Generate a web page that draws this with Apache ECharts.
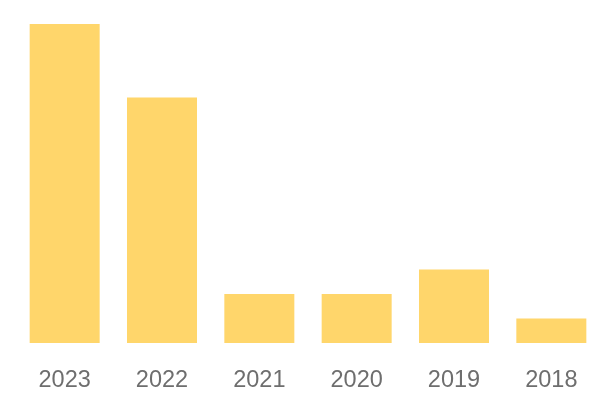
<!DOCTYPE html>
<html>
<head>
<meta charset="utf-8">
<script src="https://cdn.jsdelivr.net/npm/echarts@6/dist/echarts.min.js"></script>
<style>
  html, body { margin: 0; padding: 0; background: #fff; }
  #main { width: 600px; height: 400px; }
</style>
</head>
<body>
<div id="main"></div>
<script>
// 年份和数量
var years = ['2023', '2022', '2021', '2020', '2019', '2018'];
var counts = [13, 10, 2, 2, 3, 1];

var chart = echarts.init(document.getElementById('main'));

var option = {
    animation: false,
    grid: {
        left: 16,
        right: 0,
        top: 24,
        bottom: 57
    },
    xAxis: {
        type: 'category',
        data: years,
        axisLine: { show: false },
        axisTick: { show: false },
        axisLabel: {
            color: '#6e6e6e',
            fontSize: 23.5,
            fontFamily: 'Liberation Sans, Arial, sans-serif',
            margin: 26
        }
    },
    yAxis: {
        type: 'value',
        min: 0,
        max: 13,
        show: false,
        splitLine: { show: false }
    },
    series: [{
        type: 'bar',
        data: counts,
        barWidth: 70,
        itemStyle: { color: '#ffd66b' }
    }]
};

chart.setOption(option);
</script>
</body>
</html>
